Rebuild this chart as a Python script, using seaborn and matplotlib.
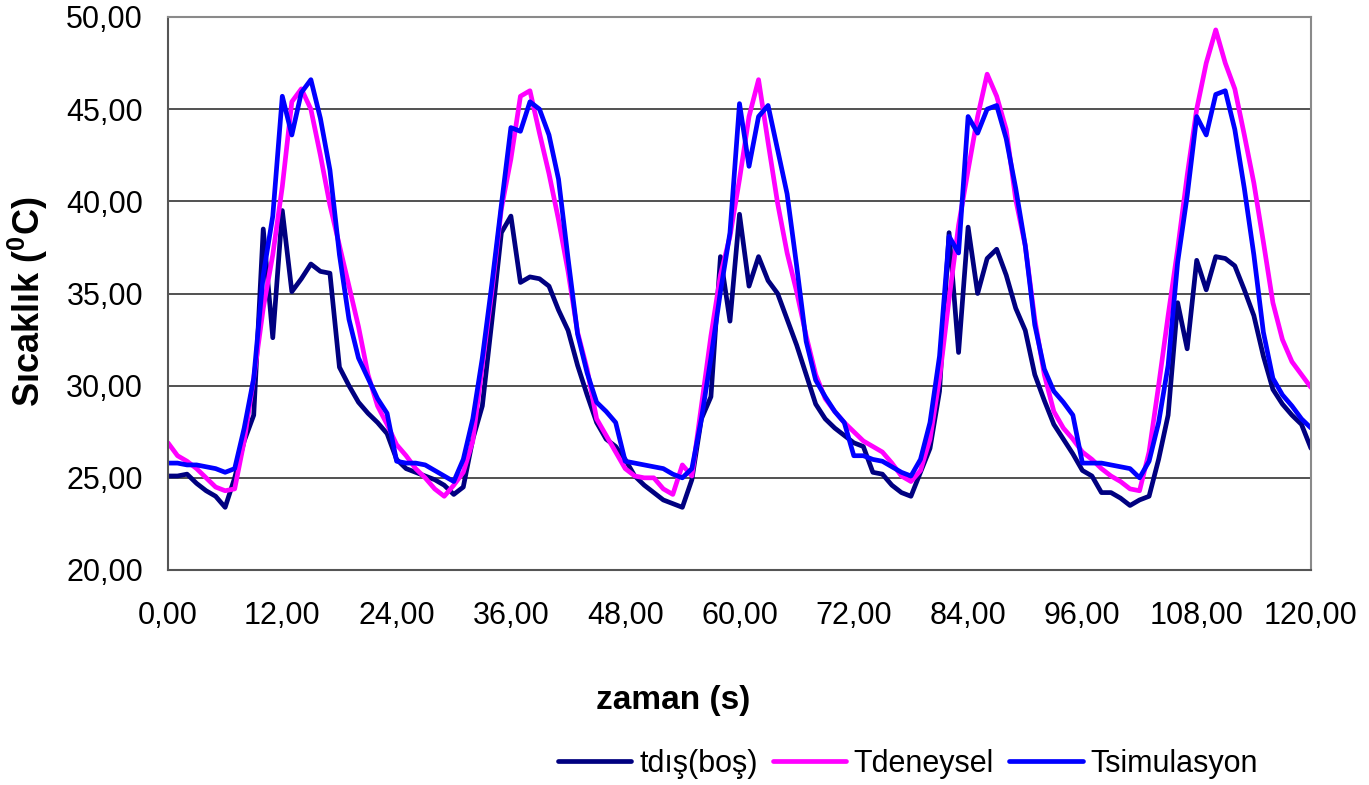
#!/usr/bin/env python3
# -*- coding: utf-8 -*-

import matplotlib as mpl  # type: ignore
import matplotlib.pyplot as plt  # type: ignore
import seaborn as sns  # type: ignore
import pandas as pd
import numpy as np
from matplotlib.ticker import FuncFormatter, MultipleLocator

mpl.use("Agg")

sns.set_style("white")
plt.rcParams["font.family"] = ["Liberation Sans", "DejaVu Sans"]
plt.rcParams["mathtext.fontset"] = "custom"
plt.rcParams["mathtext.bf"] = "Liberation Sans:bold"
plt.rcParams["text.color"] = "black"
plt.rcParams["xtick.color"] = "black"
plt.rcParams["ytick.color"] = "black"

# time axis (s), one sample per second
zaman = np.arange(0, 121)

# tdış(boş)
t_dis = [
    25.1, 25.1, 25.2, 24.7, 24.3, 24.0, 23.4, 25.0, 27.0, 28.4, 38.5,
    32.6, 39.5, 35.1, 35.8, 36.6, 36.2, 36.1, 31.0, 30.0, 29.1,
    28.5, 28.0, 27.4, 26.0, 25.5, 25.3, 25.1, 24.9, 24.6, 24.1,
    24.5, 27.1, 28.9, 33.5, 38.3, 39.2, 35.6, 35.9, 35.8, 35.4,
    34.1, 33.0, 31.1, 29.5, 28.0, 27.1, 26.7, 26.0, 25.1, 24.6,
    24.2, 23.8, 23.6, 23.4, 24.9, 28.2, 29.4, 37.0, 33.5, 39.3,
    35.4, 37.0, 35.7, 35.0, 33.6, 32.2, 30.6, 29.0, 28.2, 27.7,
    27.3, 26.9, 26.7, 25.3, 25.2, 24.6, 24.2, 24.0, 25.3, 26.6,
    29.7, 38.3, 31.8, 38.6, 35.0, 36.9, 37.4, 36.0, 34.2, 33.0,
    30.6, 29.2, 27.9, 27.1, 26.3, 25.4, 25.1, 24.2, 24.2, 23.9,
    23.5, 23.8, 24.0, 26.0, 28.4, 34.5, 32.0, 36.8, 35.2, 37.0,
    36.9, 36.5, 35.2, 33.8, 31.6, 29.8, 29.0, 28.4, 27.9, 26.6,
]

# Tdeneysel
t_deneysel = [
    26.9, 26.2, 25.9, 25.5, 25.0, 24.5, 24.3, 24.4, 27.0, 30.4, 34.2,
    37.1, 40.8, 45.4, 46.1, 45.0, 42.5, 39.8, 37.6, 35.4, 33.2,
    30.6, 28.9, 27.9, 26.8, 26.2, 25.5, 25.0, 24.4, 24.0, 24.6,
    25.3, 27.0, 31.1, 35.1, 39.6, 42.3, 45.7, 46.0, 43.7, 41.5,
    39.0, 36.2, 32.9, 30.9, 28.2, 27.3, 26.4, 25.5, 25.1, 25.0,
    25.0, 24.4, 24.1, 25.7, 25.1, 28.9, 32.7, 36.0, 38.1, 41.2,
    44.6, 46.6, 43.2, 39.9, 37.2, 35.1, 32.7, 30.6, 29.3, 28.6,
    28.0, 27.5, 27.0, 26.7, 26.4, 25.8, 25.1, 24.8, 25.4, 27.1,
    30.4, 34.7, 38.7, 41.7, 44.6, 46.9, 45.7, 43.9, 40.1, 37.6,
    33.6, 30.6, 28.6, 27.7, 27.1, 26.4, 26.0, 25.5, 25.1, 24.8,
    24.4, 24.3, 26.4, 30.0, 33.8, 37.4, 41.4, 45.0, 47.5, 49.3,
    47.5, 46.1, 43.6, 41.0, 37.8, 34.5, 32.5, 31.3, 30.6, 29.9,
]

# Tsimulasyon
t_simulasyon = [
    25.8, 25.8, 25.7, 25.7, 25.6, 25.5, 25.3, 25.5, 27.7, 30.4, 36.0,
    39.2, 45.7, 43.6, 45.9, 46.6, 44.5, 41.7, 37.1, 33.6, 31.5,
    30.4, 29.3, 28.5, 25.9, 25.8, 25.8, 25.7, 25.4, 25.1, 24.8,
    26.0, 28.2, 31.5, 35.5, 39.8, 44.0, 43.8, 45.4, 45.0, 43.6,
    41.2, 36.9, 32.8, 30.7, 29.1, 28.6, 28.0, 25.9, 25.8, 25.7,
    25.6, 25.5, 25.2, 25.0, 25.5, 28.2, 31.5, 35.1, 38.3, 45.3,
    41.9, 44.6, 45.2, 42.8, 40.4, 36.5, 32.4, 30.3, 29.4, 28.6,
    28.0, 26.2, 26.2, 26.0, 25.9, 25.6, 25.3, 25.1, 26.0, 28.0,
    31.6, 38.1, 37.2, 44.6, 43.7, 45.0, 45.2, 43.4, 40.7, 37.6,
    33.3, 30.9, 29.7, 29.1, 28.4, 25.8, 25.8, 25.8, 25.7, 25.6,
    25.5, 25.0, 25.9, 28.0, 31.1, 36.7, 40.3, 44.6, 43.6, 45.8,
    46.0, 43.9, 40.7, 37.1, 32.9, 30.4, 29.5, 28.9, 28.2, 27.7,
]

seriler = ["tdış(boş)", "Tdeneysel", "Tsimulasyon"]
renkler = {"tdış(boş)": "#000080", "Tdeneysel": "#FF00FF", "Tsimulasyon": "#0000FF"}

df = pd.concat(
    [
        pd.DataFrame({"zaman": zaman, "sicaklik": vals, "seri": name})
        for name, vals in zip(seriler, [t_dis, t_deneysel, t_simulasyon])
    ]
)

W, H = 1369, 785
fig = plt.figure(figsize=(W / 100, H / 100), dpi=100)
ax = fig.add_axes([168 / W, 1 - 570 / H, (1311 - 168) / W, (570 - 17) / H])

sns.lineplot(
    data=df,
    x="zaman",
    y="sicaklik",
    hue="seri",
    hue_order=seriler,
    palette=renkler,
    estimator=None,
    linewidth=3.4,
    legend=False,
    ax=ax,
)

ax.set_xlim(0, 120)
ax.set_ylim(20, 50)
ax.xaxis.set_major_locator(MultipleLocator(12))
ax.yaxis.set_major_locator(MultipleLocator(5))
virgul = FuncFormatter(lambda v, p: f"{v:.2f}".replace(".", ","))
ax.xaxis.set_major_formatter(virgul)
ax.yaxis.set_major_formatter(virgul)
ax.tick_params(axis="both", labelsize=22, length=8, width=1.2, color="#555555", direction="out")
ax.tick_params(axis="y", pad=10)
ax.tick_params(axis="x", pad=14)
ax.set_xlabel("")
ax.set_ylabel("")

ax.yaxis.grid(True, color="#222222", linewidth=1.1)
ax.set_axisbelow(True)
for side in ["left", "bottom"]:
    ax.spines[side].set_color("#555555")
    ax.spines[side].set_linewidth(1.5)
for side in ["top", "right"]:
    ax.spines[side].set_color("#8a8a8a")
    ax.spines[side].set_linewidth(1.5)

fig.text(28 / W, 1 - 302 / H, r"Sıcaklık ($\mathbf{^0}$C)", rotation=90,
         fontsize=26, fontweight="bold", ha="center", va="center")
fig.text(673 / W, 1 - 700 / H, "zaman (s)", fontsize=24, fontweight="bold",
         ha="center", va="center")

handles = ax.get_lines()[:3]
fig.legend(
    handles,
    seriler,
    loc="center",
    bbox_to_anchor=(908 / W, 1 - 764 / H),
    ncol=3,
    frameon=False,
    fontsize=22,
    handlelength=2.4,
    handletextpad=0.25,
    columnspacing=0.5,
)

fig.savefig("out.png", dpi=100)
